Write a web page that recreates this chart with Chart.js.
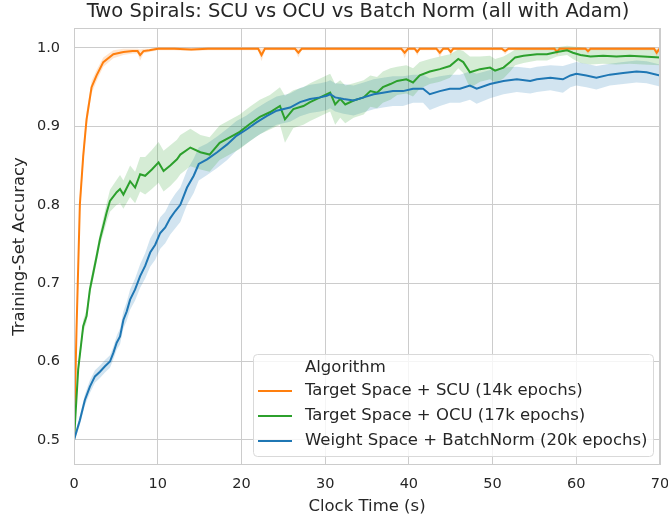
<!DOCTYPE html>
<html>
<head>
<meta charset="utf-8">
<script src="https://cdn.jsdelivr.net/npm/chart.js@4/dist/chart.umd.min.js"></script>
<style>
html, body { margin: 0; padding: 0; background: #fff; }
</style>
</head>
<body>
<canvas id="myChart" width="668" height="522"></canvas>
<script>
// series labels
var seriesNames = ['Target Space + SCU (14k epochs)', 'Target Space + OCU (17k epochs)', 'Weight Space + BatchNorm (20k epochs)'];
var xTicks = [0, 10, 20, 30, 40, 50, 60, 70];
var yTicks = [0.5, 0.6, 0.7, 0.8, 0.9, 1.0];

// SCU (orange)
var scuTime = [0, 0.3, 0.7, 1.1, 1.5, 2.1, 2.7, 3.5, 4.7, 5.9, 7.0, 7.6, 7.9, 8.3, 9, 10, 12, 14, 16, 18, 20, 22.0, 22.4, 22.8, 24, 26.4, 26.8, 27.2, 30, 33, 36, 39.1, 39.5, 39.9, 40.7, 41.0, 41.3, 43.3, 43.7, 44.1, 44.7, 45.0, 45.3, 48, 51.1, 51.5, 51.9, 55, 57.4, 57.7, 58.0, 61.1, 61.4, 61.7, 65, 68, 69.3, 69.6, 70];
var scuMean = [0.5, 0.64, 0.80, 0.862, 0.909, 0.95, 0.965, 0.982, 0.992, 0.995, 0.996, 0.996, 0.991, 0.996, 0.997, 0.999, 0.999, 0.998, 0.999, 0.999, 0.999, 0.999, 0.991, 0.999, 0.999, 0.999, 0.994, 0.999, 0.999, 0.999, 0.999, 0.999, 0.994, 0.999, 0.999, 0.995, 0.999, 0.999, 0.994, 0.999, 0.999, 0.995, 0.999, 0.999, 0.999, 0.996, 0.999, 0.999, 0.999, 0.995, 0.999, 0.999, 0.996, 0.999, 0.999, 0.999, 0.999, 0.994, 1.0];
var scuCI = [0.003, 0.01, 0.012, 0.012, 0.01, 0.008, 0.007, 0.006, 0.005, 0.004, 0.003, 0.003, 0.007, 0.003, 0.002, 0.002, 0.002, 0.002, 0.002, 0.002, 0.002, 0.002, 0.008, 0.002, 0.002, 0.002, 0.006, 0.002, 0.002, 0.002, 0.002, 0.002, 0.007, 0.002, 0.002, 0.005, 0.002, 0.002, 0.006, 0.002, 0.002, 0.005, 0.002, 0.002, 0.002, 0.004, 0.002, 0.002, 0.002, 0.005, 0.002, 0.002, 0.004, 0.002, 0.002, 0.002, 0.002, 0.005, 0.002];

// OCU (green)
var ocuTime = [0, 0.5, 1.1, 1.5, 1.9, 2.3, 2.7, 3.1, 3.5, 3.9, 4.3, 5.1, 5.5, 5.9, 6.7, 7.3, 7.9, 8.5, 9.3, 10.1, 10.7, 11.5, 12.3, 12.7, 13.9, 15.1, 16.2, 17.4, 18.6, 19.8, 21, 22.2, 23.4, 24.6, 25.2, 26.2, 27.4, 28.2, 29.4, 30.6, 31.2, 31.8, 32.4, 33.4, 34.6, 35.4, 36.2, 36.9, 37.8, 38.6, 39.7, 40.5, 41.3, 42.5, 43.7, 44.9, 45.9, 46.5, 47.3, 48.5, 49.7, 50.3, 51.3, 52.1, 52.7, 53.7, 55.3, 56.5, 57.7, 58.9, 59.6, 60.5, 61.7, 63.2, 64.8, 66.4, 68, 70];
var ocuMean = [0.5, 0.59, 0.645, 0.658, 0.692, 0.713, 0.734, 0.756, 0.773, 0.79, 0.805, 0.816, 0.82, 0.813, 0.83, 0.822, 0.839, 0.837, 0.845, 0.854, 0.843, 0.85, 0.858, 0.864, 0.873, 0.867, 0.864, 0.879, 0.886, 0.893, 0.903, 0.912, 0.918, 0.926, 0.909, 0.922, 0.926, 0.931, 0.937, 0.943, 0.928, 0.935, 0.928, 0.933, 0.937, 0.945, 0.943, 0.95, 0.954, 0.958, 0.96, 0.956, 0.965, 0.97, 0.973, 0.977, 0.986, 0.982, 0.969, 0.973, 0.975, 0.971, 0.975, 0.982, 0.988, 0.99, 0.992, 0.992, 0.995, 0.997, 0.994, 0.991, 0.989, 0.99, 0.989, 0.99, 0.989, 0.988];
var ocuCI = [0.003, 0.006, 0.008, 0.008, 0.008, 0.008, 0.008, 0.008, 0.01, 0.012, 0.014, 0.016, 0.018, 0.018, 0.02, 0.02, 0.022, 0.024, 0.025, 0.026, 0.026, 0.026, 0.025, 0.025, 0.024, 0.022, 0.022, 0.022, 0.022, 0.022, 0.022, 0.022, 0.022, 0.024, 0.03, 0.024, 0.024, 0.024, 0.024, 0.024, 0.026, 0.024, 0.024, 0.022, 0.022, 0.02, 0.02, 0.02, 0.02, 0.018, 0.018, 0.018, 0.017, 0.016, 0.016, 0.015, 0.012, 0.014, 0.02, 0.016, 0.015, 0.015, 0.014, 0.012, 0.01, 0.009, 0.008, 0.008, 0.006, 0.006, 0.008, 0.01, 0.01, 0.01, 0.01, 0.01, 0.01, 0.01];

// BatchNorm (blue)
var bnTime = [0, 0.7, 1.3, 1.9, 2.5, 3.1, 3.7, 4.3, 4.7, 5.1, 5.5, 5.9, 6.3, 6.7, 7.3, 7.9, 8.5, 9.1, 9.7, 10.3, 10.9, 11.5, 12.1, 12.7, 13.5, 14.3, 14.9, 15.9, 17.1, 18.3, 19.4, 20.6, 21.8, 23, 24.2, 25.8, 27, 28.2, 29.4, 30.2, 30.6, 31.2, 32.2, 33.4, 34.6, 35.8, 36.9, 38.1, 39.3, 40.5, 41.7, 42.5, 43.7, 44.9, 46.1, 47.3, 48.1, 49.7, 51.3, 52.9, 54.5, 55.3, 56.9, 58.4, 59.3, 60, 61.2, 62.4, 64, 65.6, 67.2, 68.4, 70];
var bnMean = [0.5, 0.525, 0.551, 0.568, 0.581, 0.587, 0.594, 0.6, 0.611, 0.624, 0.632, 0.653, 0.664, 0.679, 0.692, 0.709, 0.722, 0.739, 0.749, 0.764, 0.771, 0.783, 0.792, 0.8, 0.822, 0.837, 0.852, 0.858, 0.867, 0.877, 0.888, 0.896, 0.905, 0.913, 0.92, 0.924, 0.931, 0.935, 0.937, 0.939, 0.941, 0.937, 0.935, 0.933, 0.937, 0.941, 0.943, 0.945, 0.945, 0.948, 0.948, 0.941, 0.945, 0.948, 0.948, 0.952, 0.948, 0.954, 0.958, 0.96, 0.958, 0.96, 0.962, 0.96, 0.965, 0.967, 0.965, 0.962, 0.966, 0.968, 0.97, 0.969, 0.965];
var bnCI = [0.003, 0.006, 0.007, 0.008, 0.008, 0.008, 0.008, 0.008, 0.008, 0.009, 0.01, 0.011, 0.012, 0.013, 0.014, 0.015, 0.016, 0.018, 0.019, 0.02, 0.02, 0.021, 0.022, 0.022, 0.022, 0.022, 0.021, 0.02, 0.02, 0.02, 0.019, 0.018, 0.018, 0.018, 0.018, 0.018, 0.018, 0.018, 0.018, 0.018, 0.018, 0.018, 0.019, 0.019, 0.019, 0.019, 0.019, 0.019, 0.019, 0.018, 0.018, 0.02, 0.019, 0.018, 0.018, 0.018, 0.019, 0.018, 0.017, 0.016, 0.016, 0.016, 0.016, 0.017, 0.015, 0.015, 0.015, 0.015, 0.014, 0.014, 0.014, 0.014, 0.014];

var lineColors = ['#ff7f0e', '#2ca02c', '#1f77b4'];
var bandColors = ['rgba(255,127,14,0.2)', 'rgba(44,160,44,0.2)', 'rgba(31,119,180,0.2)'];
var FONT = 'DejaVu Sans';
var TXT = '#262626';

function pts(t, v, off) {
    return t.map(function (x, i) { return { x: x, y: v[i] + off[i] }; });
}
function zero(n) { return new Array(n).fill(0); }
function neg(a) { return a.map(function (d) { return -d; }); }

var series = [
    [scuTime, scuMean, scuCI],
    [ocuTime, ocuMean, ocuCI],
    [bnTime, bnMean, bnCI]
];

var datasets = [];
// bands first: upper bound, then lower bound filled to it
series.forEach(function (s, k) {
    var upIdx = datasets.length;
    datasets.push({ data: pts(s[0], s[1], s[2]), borderWidth: 0, pointRadius: 0, fill: false, order: 20 });
    datasets.push({ data: pts(s[0], s[1], neg(s[2])), borderWidth: 0, pointRadius: 0, fill: upIdx, backgroundColor: bandColors[k], order: 20 });
});
// mean lines, blue on top
series.forEach(function (s, k) {
    datasets.push({
        label: seriesNames[k],
        data: pts(s[0], s[1], zero(s[0].length)),
        borderColor: lineColors[k], borderWidth: 2, pointRadius: 0,
        fill: false, order: 10 - k
    });
});

var decor = {
    id: 'decor',
    afterDraw: function (chart) {
        var c = chart.ctx, a = chart.chartArea;
        c.save();
        // frame
        c.strokeStyle = '#cccccc';
        c.lineWidth = 1;
        c.strokeRect(Math.round(a.left) + 0.5, Math.round(a.top) + 0.5, Math.round(a.right - a.left) - 1, Math.round(a.bottom - a.top) - 1);
        // title
        c.fillStyle = TXT;
        c.font = '19.5px "' + FONT + '"';
        c.textAlign = 'center';
        c.textBaseline = 'middle';
        c.fillText('Two Spirals: SCU vs OCU vs Batch Norm (all with Adam)', 358, 12);
        // legend box
        var bx = 253, by = 354, bw = 400, bh = 102;
        c.beginPath();
        c.roundRect(bx + 0.5, by + 0.5, bw, bh, 4);
        c.fillStyle = 'rgba(255,255,255,0.8)';
        c.fill();
        c.strokeStyle = '#d9d9d9';
        c.stroke();
        c.font = '16.5px "' + FONT + '"';
        c.textAlign = 'left';
        c.fillStyle = TXT;
        c.fillText('Algorithm', 305, 368);
        for (var k = 0; k < 3; k++) {
            var y = 391 + k * 25;
            c.strokeStyle = lineColors[k];
            c.lineWidth = 2;
            c.beginPath();
            c.moveTo(258, y);
            c.lineTo(292, y);
            c.stroke();
            c.fillStyle = TXT;
            c.fillText(seriesNames[k], 305, y);
        }
        c.restore();
    }
};

var config = {
    type: 'line',
    data: { datasets: datasets },
    options: {
        responsive: false,
        animation: false,
        layout: { padding: { left: 0, right: 8, top: 28, bottom: 0 } },
        plugins: {
            legend: { display: false },
            tooltip: { enabled: false },
            filler: { drawTime: 'beforeDatasetsDraw' }
        },
        scales: {
            x: {
                type: 'linear', min: 0, max: 70,
                afterFit: function (s) { s.height = 57; s.paddingLeft = 0; s.paddingRight = 0; },
                afterBuildTicks: function (s) { s.ticks = xTicks.map(function (v) { return { value: v }; }); },
                grid: { color: '#cccccc', drawTicks: false },
                border: { display: false },
                ticks: { padding: 11, color: TXT, font: { family: FONT, size: 14.5 }, maxRotation: 0 },
                title: { display: true, text: 'Clock Time (s)', color: TXT, font: { family: FONT, size: 16.5 }, padding: { top: 0, bottom: 5 } }
            },
            y: {
                type: 'linear', min: 0.468, max: 1.0255,
                afterFit: function (s) { s.width = 74; s.paddingTop = 0; s.paddingBottom = 0; },
                afterBuildTicks: function (s) { s.ticks = yTicks.map(function (v) { return { value: v }; }); },
                grid: { color: '#cccccc', drawTicks: false },
                border: { display: false },
                ticks: { padding: 14, color: TXT, font: { family: FONT, size: 14.5 }, callback: function (v) { return v.toFixed(1); } },
                title: { display: true, text: 'Training-Set Accuracy', color: TXT, font: { family: FONT, size: 16.5 }, padding: { top: 10, bottom: 0 } }
            }
        }
    },
    plugins: [decor]
};

var ctx = document.getElementById('myChart').getContext('2d');
var chart = new Chart(ctx, config);
</script>
</body>
</html>
